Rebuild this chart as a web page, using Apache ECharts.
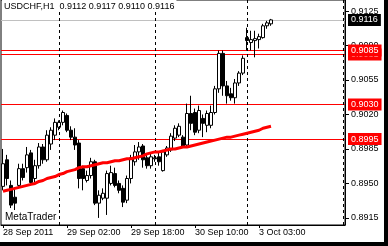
<!DOCTYPE html>
<html><head><meta charset="utf-8">
<script src="https://cdn.jsdelivr.net/npm/echarts@6/dist/echarts.min.js"></script>
<style>
html,body{margin:0;padding:0;background:#000;}
#wrap{width:388px;height:246px;background:#000;position:relative;overflow:hidden;}
#c{width:384px;height:242px;background:#fff;position:absolute;left:0;top:0;}
</style></head><body><div id="wrap"><div id="c"></div></div>
<script>
const titleText = 'USDCHF,H1  0.9112 0.9117 0.9110 0.9116';
const brandText = 'MetaTrader';
const opens  = [0.8947,0.8974,0.8948,0.8936,0.8948,0.8965,0.8966,0.8981,0.8955,0.8968,0.8987,0.8974,0.8990,0.8999,0.9007,0.9012,0.9019,0.9004,0.8997,0.8991,0.8965,0.8953,0.8958,0.8972,0.8930,0.8935,0.8935,0.8950,0.8960,0.8950,0.8945,0.8933,0.8955,0.8972,0.8982,0.8988,0.8976,0.8968,0.8975,0.8977,0.8963,0.8979,0.8984,0.8996,0.8999,0.8997,0.8989,0.9021,0.9022,0.9004,0.9016,0.9009,0.9009,0.9022,0.9046,0.9082,0.9049,0.9041,0.9037,0.9052,0.9062,0.9098,0.9093,0.9095,0.9096,0.9098,0.9110,0.9112];
const highs  = [0.8985,0.8979,0.8953,0.8946,0.8970,0.8970,0.8987,0.8984,0.8974,0.8991,0.8990,0.9004,0.9007,0.9016,0.9014,0.9024,0.9021,0.9008,0.9006,0.8994,0.8968,0.8963,0.8976,0.8974,0.8943,0.8945,0.8963,0.8968,0.8966,0.8953,0.8948,0.8958,0.8979,0.8989,0.8992,0.8990,0.8979,0.8981,0.8979,0.8981,0.8984,0.8988,0.9001,0.9009,0.9011,0.8999,0.9031,0.9039,0.9026,0.9029,0.9020,0.9024,0.9029,0.9049,0.9085,0.9085,0.9054,0.9047,0.9056,0.9064,0.9080,0.9108,0.9105,0.9105,0.9102,0.9112,0.9115,0.9117];
const lows   = [0.8943,0.8948,0.8925,0.8923,0.8945,0.8953,0.8961,0.8948,0.8951,0.8965,0.8970,0.8972,0.8984,0.8994,0.9004,0.9009,0.9002,0.8994,0.8984,0.8945,0.8943,0.8951,0.8955,0.8928,0.8915,0.8933,0.8918,0.8948,0.8946,0.8940,0.8926,0.8930,0.8950,0.8968,0.8974,0.8966,0.8965,0.8965,0.8972,0.8968,0.8962,0.8977,0.8982,0.8993,0.8997,0.8986,0.8987,0.9004,0.8999,0.9001,0.8997,0.9002,0.9006,0.9020,0.9042,0.9039,0.9031,0.9034,0.9031,0.9049,0.9060,0.9085,0.9085,0.9078,0.9087,0.9097,0.9107,0.9110];
const closes = [0.8970,0.8955,0.8928,0.8930,0.8965,0.8956,0.8979,0.8951,0.8968,0.8987,0.8974,0.8999,0.9004,0.9012,0.9012,0.9022,0.9004,0.8997,0.8989,0.8955,0.8955,0.8958,0.8972,0.8930,0.8938,0.8940,0.8960,0.8961,0.8948,0.8943,0.8931,0.8955,0.8976,0.8982,0.8987,0.8974,0.8968,0.8977,0.8976,0.8972,0.8982,0.8986,0.8998,0.9006,0.9008,0.8987,0.9021,0.9011,0.9002,0.9024,0.9011,0.9021,0.9022,0.9046,0.9082,0.9049,0.9039,0.9037,0.9052,0.9062,0.9077,0.9095,0.9096,0.9097,0.9099,0.9110,0.9113,0.9116];
const maValues = [0.8942,0.8943,0.8944,0.8945,0.8946,0.8947,0.8948,0.8949,0.8950,0.8952,0.8953,0.8955,0.8956,0.8957,0.8959,0.8960,0.8962,0.8963,0.8964,0.8966,0.8967,0.8967,0.8968,0.8969,0.8970,0.8971,0.8971,0.8972,0.8973,0.8973,0.8974,0.8975,0.8975,0.8976,0.8977,0.8978,0.8980,0.8981,0.8982,0.8982,0.8983,0.8984,0.8985,0.8985,0.8986,0.8987,0.8987,0.8988,0.8989,0.8990,0.8991,0.8992,0.8993,0.8994,0.8995,0.8996,0.8997,0.8997,0.8998,0.8999,0.9000,0.9001,0.9002,0.9003,0.9004,0.9006,0.9007,0.9008];
const emptyFutureBars = 18;
const tickIndex  = [0, 16, 32, 48, 64];
const tickLabels = ['28 Sep 2011', '29 Sep 02:00', '29 Sep 18:00', '30 Sep 10:00', '3 Oct 03:00'];
const yTickValues = [0.9125, 0.9090, 0.9055, 0.9020, 0.8985, 0.8950, 0.8915];
const daySeparators = [14, 38, 61, 85];
const levelValues = [0.9116, 0.9081, 0.9085, 0.9030, 0.8995];
const levelLabels = ['0.9116', '0.9081', '0.9085', '0.9030', '0.8995'];
const levelColors = ['#c0c0c0', '#ff0000', '#ff0000', '#ff0000', '#ff0000'];
const levelLabelBg = ['#000000', '#ff0000', '#ff0000', '#ff0000', '#ff0000'];

const FONT = 'Liberation Sans';
const nBars = opens.length + emptyFutureBars;
const categories = [];
for (let i = 0; i < nBars; i++) categories.push(String(i));
const candleData = opens.map((o, i) => [o, closes[i], lows[i], highs[i]]);
const tickMap = {};
tickIndex.forEach((t, k) => { tickMap[t] = tickLabels[k]; });

const sepData = daySeparators.map(d => ({
  xAxis: d,
  lineStyle: { color: '#000', width: 1, type: [3, 3] },
  label: { show: false }
}));
const levelData = levelValues.map((v, k) => ({
  yAxis: v,
  lineStyle: { color: levelColors[k], width: 1, type: 'solid' },
  label: {
    show: true, position: 'end', distance: 3,
    formatter: levelLabels[k], color: '#fff',
    backgroundColor: levelLabelBg[k], padding: [1, 3, 1, 3],
    fontSize: 9, fontFamily: FONT, lineHeight: 10
  }
}));

const chart = echarts.init(document.getElementById('c'), null, { renderer: 'canvas' });
chart.setOption({
  animation: false,
  backgroundColor: '#fff',
  grid: { left: 1, top: -1, width: 344, height: 226, show: true, borderColor: '#000', borderWidth: 1, backgroundColor: 'transparent' },
  xAxis: {
    type: 'category', data: categories, boundaryGap: true,
    axisLine: { show: true, lineStyle: { color: '#000', width: 1 } },
    axisTick: { show: true, alignWithLabel: true, length: 3, lineStyle: { color: '#000' },
      interval: (idx) => tickMap[idx] !== undefined },
    axisLabel: { show: true, interval: (idx) => tickMap[idx] !== undefined,
      formatter: (val, idx) => tickMap[idx] || '', align: 'left', margin: 3,
      fontSize: 9, fontFamily: FONT, color: '#000' },
    splitLine: { show: false }
  },
  yAxis: {
    type: 'value', position: 'right', min: 0.89078, max: 0.91362,
    axisLine: { show: true, lineStyle: { color: '#000', width: 1 } },
    axisTick: { show: true, length: 4, lineStyle: { color: '#000' }, customValues: yTickValues },
    axisLabel: { show: true, customValues: yTickValues, formatter: v => v.toFixed(4),
      margin: 6, fontSize: 9, fontFamily: FONT, color: '#000' },
    splitLine: { show: false }
  },
  series: [
    {
      type: 'candlestick', data: candleData, barWidth: 3, z: 3,
      itemStyle: { color: '#fff', color0: '#000', borderColor: '#000', borderColor0: '#000', borderWidth: 1 },
      markLine: { silent: true, symbol: ['none', 'none'], animation: false, data: sepData }
    },
    {
      type: 'line', data: maValues, showSymbol: false, symbol: 'none',
      lineStyle: { color: '#ff0000', width: 3 }, z: 5,
      markLine: { silent: true, precision: 4, symbol: ['none', 'none'], animation: false, data: levelData, z: 2 }
    }
  ],
  graphic: [
    { type: 'text', left: 2, top: 0, z: 100, style: { text: titleText, fontSize: 9, fontFamily: FONT, fill: '#000', backgroundColor: '#fff', padding: [2, 2, 1, 2] } },
    { type: 'text', left: 5, top: 212, z: 100, style: { text: brandText, fontSize: 10, fontFamily: FONT, fill: '#000' } }
  ]
});
</script></body></html>
